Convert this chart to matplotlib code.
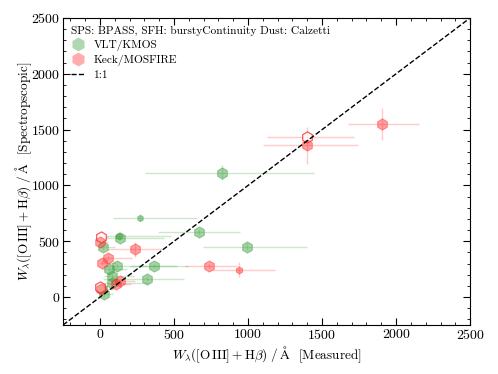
import matplotlib
matplotlib.use("Agg")
import matplotlib.pyplot as plt
from matplotlib.lines import Line2D
import numpy as np

plt.rcParams['font.family'] = 'serif'
plt.rcParams['font.serif'] = ['cmr10']
plt.rcParams['mathtext.fontset'] = 'cm'
plt.rcParams['axes.formatter.use_mathtext'] = True

# Green: VLT/KMOS
g_x = [826, 270, 670, 993, 130, 135, 20, 61, 117, 367, 79, 320, 83, 11, 29]
g_y = [1115, 711, 582, 450, 548, 530, 445, 250, 277, 280, 190, 166, 130, 69, 24]
g_xlo = [520, 180, 277, 297, 100, 100, 20, 50, 80, 165, 50, 300, 60, 11, 25]
g_xhi = [620, 383, 275, 402, 350, 300, 80, 120, 400, 230, 150, 245, 250, 80, 60]
g_ylo = [70, 30, 30, 30, 20, 20, 20, 20, 20, 20, 20, 20, 20, 20, 20]
g_yhi = [70, 30, 30, 30, 20, 20, 20, 20, 20, 20, 20, 20, 20, 20, 20]
g_size = [8, 4.5, 8, 8, 5, 8, 8, 8, 8, 8, 8, 8, 8, 8, 8]
g_hollow = [0, 0, 0, 0, 0, 0, 0, 0, 0, 0, 0, 0, 0, 0, 0]

# Red: Keck/MOSFIRE
r_x = [1903, 1401, 1401, 5, 2, 237, 57, 11, 733, 936, 135, 106, 0, 7]
r_y = [1548, 1436, 1359, 540, 494, 427, 350, 309, 278, 245, 143, 116, 87, 69]
r_xlo = [225, 271, 298, 5, 5, 183, 40, 11, 160, 180, 60, 50, 5, 7]
r_xhi = [250, 315, 340, 50, 50, 189, 157, 100, 190, 246, 100, 100, 40, 40]
r_ylo = [145, 40, 170, 20, 20, 70, 20, 20, 20, 65, 20, 20, 20, 20]
r_yhi = [145, 40, 165, 20, 20, 70, 20, 20, 20, 65, 20, 20, 20, 20]
r_size = [8, 8, 8, 8, 8, 8, 8, 8, 8, 5, 8, 8, 8, 8]
r_hollow = [0, 1, 0, 1, 0, 0, 0, 0, 0, 0, 0, 0, 1, 0]

fig = plt.figure(figsize=(4.98, 3.74), dpi=100)
ax = fig.add_axes([0.1265, 0.131, 0.8175, 0.821])

gcol = '#3a9e3a'
rcol = '#ff3030'

def draw(xs, ys, xlo, xhi, ylo, yhi, sz, hol, col):
    for i in range(len(xs)):
        ax.errorbar([xs[i]], [ys[i]], xerr=[[xlo[i]], [xhi[i]]], yerr=[[ylo[i]], [yhi[i]]],
                    fmt='none', ecolor=col, alpha=0.25, elinewidth=1.0, zorder=2)
        if hol[i]:
            ax.plot([xs[i]], [ys[i]], marker='h', ms=sz[i], mfc='white', mec=col,
                    mew=0.9, alpha=0.8, ls='none', zorder=3)
        else:
            ax.plot([xs[i]], [ys[i]], marker='h', ms=sz[i], mfc=col, mec=col,
                    mew=0.8, alpha=0.45, ls='none', zorder=3)

draw(g_x, g_y, g_xlo, g_xhi, g_ylo, g_yhi, g_size, g_hollow, gcol)
draw(r_x, r_y, r_xlo, r_xhi, r_ylo, r_yhi, r_size, r_hollow, rcol)

lims = [-250, 2500]
ax.plot(lims, lims, 'k--', lw=1.0, zorder=4)
ax.set_xlim(lims)
ax.set_ylim(lims)
ax.set_xticks([0, 500, 1000, 1500, 2000, 2500])
ax.set_yticks([0, 500, 1000, 1500, 2000, 2500])
ax.minorticks_on()
ax.tick_params(which='both', direction='in', top=True, right=True, labelsize=10, pad=2)
ax.tick_params(which='major', length=5)
ax.tick_params(which='minor', length=2.5)

ax.set_xlabel(r'$W_\lambda([\mathrm{O\,III}]+\mathrm{H}\beta)\;/\;\mathrm{\AA}$  [Measured]', fontsize=9.5, labelpad=2)
ax.set_ylabel(r'$W_\lambda([\mathrm{O\,III}]+\mathrm{H}\beta)\;/\;\mathrm{\AA}$  [Spectropscopic]', fontsize=9.5, labelpad=-2)

handles = [Line2D([], [], marker='h', ls='none', ms=10, mfc=gcol, mec='none', alpha=0.4),
           Line2D([], [], marker='h', ls='none', ms=10, mfc=rcol, mec='none', alpha=0.4),
           Line2D([], [], color='k', ls='--', lw=1.0)]
leg = ax.legend(handles, ['VLT/KMOS', 'Keck/MOSFIRE', '1:1'], loc='upper left',
                title='SPS: BPASS, SFH: burstyContinuity Dust: Calzetti',
                frameon=False, fontsize=8.2, title_fontsize=8.2, handlelength=1.2,
                borderaxespad=0.4, borderpad=0.3, labelspacing=0.35)
leg._legend_box.align = 'left'

fig.savefig('out.png', dpi=100)
